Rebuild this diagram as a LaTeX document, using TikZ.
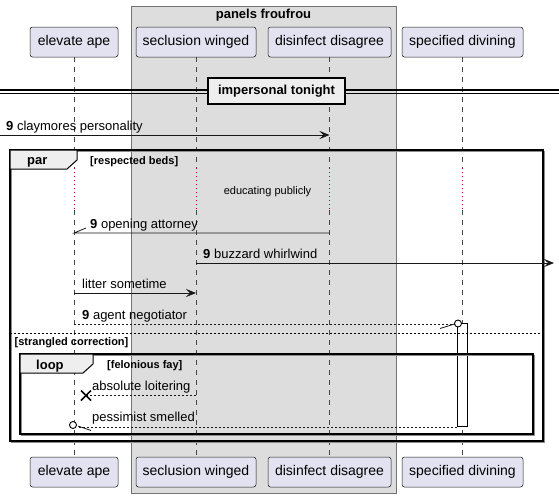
\documentclass[tikz,border=0pt]{standalone}
\usepackage{fontspec}
\setmainfont{Liberation Sans}
\usetikzlibrary{arrows.meta,calc}
\definecolor{partfill}{HTML}{E2E2F0}
\definecolor{boxfill}{HTML}{DDDDDD}
\definecolor{tabfill}{HTML}{EEEEEE}
\definecolor{linec}{HTML}{181818}
\definecolor{delayred}{HTML}{A80036}
\tikzset{
 part/.style={draw=linec, fill=partfill, rounded corners=2.5pt, line width=0.5pt, minimum height=30pt, inner sep=0pt, font=\fontsize{14}{16}\selectfont, text height=10pt, text depth=3pt},
 life/.style={draw=linec!80, dash pattern=on 5pt off 5pt, line width=0.5pt},
 delayline/.style={draw=delayred, dash pattern=on 1pt off 3pt, line width=0.8pt},
 msg/.style={draw=linec, line width=0.8pt},
 fillarrow/.style={-{Stealth[length=10pt,width=8pt,inset=4pt]}},
 dmsg/.style={draw=linec, line width=0.8pt, dash pattern=on 2pt off 2pt},
 lbl/.style={font=\fontsize{13}{15}\selectfont, anchor=base west, inner sep=0pt},
 glbl/.style={font=\bfseries\fontsize{11}{13}\selectfont, anchor=base west, inner sep=0pt},
 tablbl/.style={font=\bfseries\fontsize{13}{15}\selectfont, anchor=base west, inner sep=0pt},
 gframe/.style={draw=black, line width=1.5pt},
 gshadow/.style={draw=black!45, line width=1.5pt},
 gtab/.style={draw=black, fill=tabfill, line width=1pt},
 divline/.style={draw=black, line width=1.2pt},
}
\begin{document}
\begin{tikzpicture}[x=1pt,y=-1pt]
\useasboundingbox (0,0) rectangle (559,498);
% panel box
\node[draw=black!55, fill=boxfill, line width=0.6pt, minimum width=265pt, minimum height=487pt, inner sep=0pt] (panel) at (263.5,249.5) {};
\node[font=\bfseries\fontsize{13}{15}\selectfont, anchor=base, inner sep=0pt] (paneltitle) at (263.5,18) {panels froufrou};
% participants
\node[part, minimum width=88pt] (topA) at (74,42) {elevate ape};
\node[part, minimum width=120pt] (topB) at (196,42) {seclusion winged};
\node[part, minimum width=123pt] (topC) at (329.5,42) {disinfect disagree};
\node[part, minimum width=121pt] (topD) at (462.5,42) {specified divining};
\node[part, minimum width=88pt] (botA) at (74,472) {elevate ape};
\node[part, minimum width=120pt] (botB) at (196,472) {seclusion winged};
\node[part, minimum width=123pt] (botC) at (329.5,472) {disinfect disagree};
\node[part, minimum width=121pt] (botD) at (462.5,472) {specified divining};
% delay coordinates
\coordinate (dly1) at (0,168);
\coordinate (dly2) at (0,210);
\foreach \p in {A,B,C,D}{
  \draw[life] (top\p.south) -- (top\p |- dly1);
  \draw[delayline] (top\p |- dly1) -- (top\p |- dly2);
  \draw[life] (top\p |- dly2) -- (bot\p.north);
}
% divider
\coordinate (divL1) at (0,90);
\coordinate (divR1) at (559,90);
\coordinate (divL2) at (0,93.5);
\coordinate (divR2) at (559,93.5);
\draw[divline] (divL1) -- (divR1);
\draw[divline] (divL2) -- (divR2);
\node[draw=black, fill=tabfill, line width=1.5pt, minimum width=137pt, minimum height=26pt, inner sep=0pt, font=\bfseries\fontsize{13}{15}\selectfont, text height=9.5pt, text depth=2.5pt] (divbox) at (276.5,91) {impersonal tonight};
% message 1
\coordinate (m1) at (0,135);
\draw[msg, fillarrow] (m1) -- (topC |- m1);
\node[lbl] (t1) at (6,130) {\textbf{9} claymores personality};
% par frame
\draw[gshadow] (11.5,151.5) rectangle (544.5,442.5);
\draw[gframe] (10,150) rectangle (543,441);
\draw[gtab] (10,150) -- (77,150) -- (77,160) -- (67,169) -- (10,169) -- cycle;
\node[tablbl] (parlbl) at (27,164.5) {par};
\node[glbl] (parcond) at (90,164) {[respected beds]};
% delay text
\node[font=\fontsize{11}{13}\selectfont, anchor=base, inner sep=0pt] (dlytxt) at (267.5,194) {educating publicly};
% message 2
\coordinate (m2) at (0,233);
\draw[msg] (topC |- m2) -- (topA |- m2) -- ++(12,-5);
\node[lbl] (t2) at (90,228) {\textbf{9} opening attorney};
% message 3
\coordinate (m3) at (0,263);
\coordinate (m3end) at (554,263);
\draw[msg, fillarrow] (topB |- m3) -- (m3end);
\node[lbl] (t3) at (203,258) {\textbf{9} buzzard whirlwind};
% message 4
\coordinate (m4) at (0,293);
\draw[msg, fillarrow] (topA |- m4) -- (topB |- m4);
\node[lbl] (t4) at (82,288) {litter sometime};
% activation
\node[draw=black, fill=white, line width=1pt, minimum width=10pt, minimum height=103pt, inner sep=0pt] (act) at (462,374.5) {};
% message 5
\coordinate (m5) at (0,324);
\coordinate (m5end) at (454.5,324);
\draw[dmsg] (topA |- m5) -- (m5end);
\coordinate (m5h) at (440,328.5);
\draw[msg] (m5h) -- (m5end);
\node[circle, draw=black, fill=white, line width=0.9pt, minimum size=7pt, inner sep=0pt] (c5) at (458,323.5) {};
\node[lbl] (t5) at (82,319) {\textbf{9} agent negotiator};
% else separator
\coordinate (elL) at (10,333);
\coordinate (elR) at (543,333);
\draw[draw=black, line width=0.8pt, dash pattern=on 2pt off 2pt] (elL) -- (elR);
\node[glbl] (elselbl) at (14.5,345) {[strangled correction]};
% loop frame
\draw[gshadow] (21.5,355.5) rectangle (534.5,435.5);
\draw[gframe] (20,354) rectangle (533,434);
\draw[gtab] (20,354) -- (93,354) -- (93,364) -- (83,373) -- (20,373) -- cycle;
\node[tablbl] (looplbl) at (36,369) {loop};
\node[glbl] (loopcond) at (107,368.5) {[felonious fay]};
% message 6 (lost)
\coordinate (m6) at (0,395);
\coordinate (m6x) at (86,395.5);
\draw[dmsg] (topB |- m6) -- (m6x |- m6);
\draw[line width=1.6pt] ($(m6x)+(-5,-5)$) -- ($(m6x)+(5,5)$);
\draw[line width=1.6pt] ($(m6x)+(-5,5)$) -- ($(m6x)+(5,-5)$);
\node[lbl] (t6) at (92,390) {absolute loitering};
% message 7
\coordinate (m7) at (0,427);
\coordinate (m7end) at (77,427);
\draw[dmsg] (act.west |- m7) -- (m7end);
\coordinate (m7h) at (91,430.5);
\draw[msg] (m7h) -- (78,426);
\node[circle, draw=black, fill=white, line width=0.9pt, minimum size=7pt, inner sep=0pt] (c7) at (73,425) {};
\node[lbl] (t7) at (92,421) {pessimist smelled};
\end{tikzpicture}
\end{document}
